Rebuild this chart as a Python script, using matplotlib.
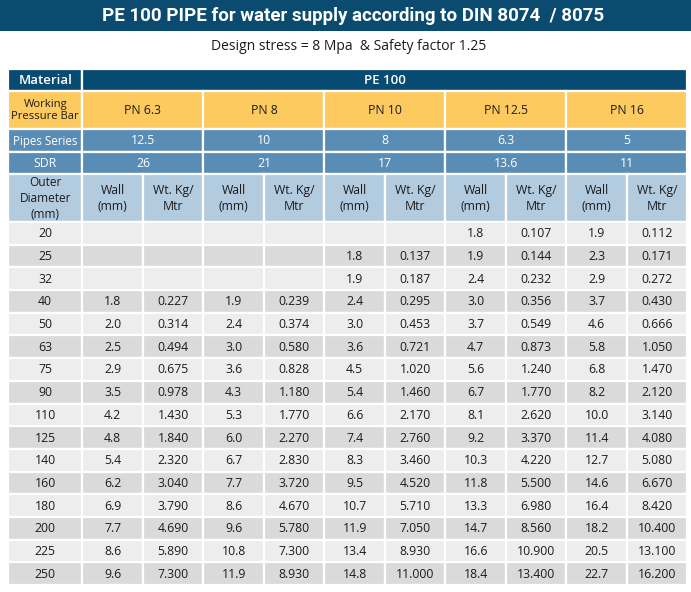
import matplotlib.pyplot as plt
from matplotlib.patches import Rectangle

plt.rcParams["font.family"] = ["Open Sans", "DejaVu Sans"]

# ---------- data ----------
title = "PE 100 PIPE for water supply according to DIN 8074  / 8075"
subtitle = "Design stress = 8 Mpa  & Safety factor 1.25"
material = "PE 100"
pn_labels = ["PN 6.3", "PN 8", "PN 10", "PN 12.5", "PN 16"]
pipe_series = ["12.5", "10", "8", "6.3", "5"]
sdr = ["26", "21", "17", "13.6", "11"]
outer_d = [20, 25, 32, 40, 50, 63, 75, 90, 110, 125, 140, 160, 180, 200, 225, 250]

wall_pn63 = [None, None, None, 1.8, 2.0, 2.5, 2.9, 3.5, 4.2, 4.8, 5.4, 6.2, 6.9, 7.7, 8.6, 9.6]
wt_pn63 = [None, None, None, 0.227, 0.314, 0.494, 0.675, 0.978, 1.430, 1.840, 2.320, 3.040, 3.790, 4.690, 5.890, 7.300]
wall_pn8 = [None, None, None, 1.9, 2.4, 3.0, 3.6, 4.3, 5.3, 6.0, 6.7, 7.7, 8.6, 9.6, 10.8, 11.9]
wt_pn8 = [None, None, None, 0.239, 0.374, 0.580, 0.828, 1.180, 1.770, 2.270, 2.830, 3.720, 4.670, 5.780, 7.300, 8.930]
wall_pn10 = [None, 1.8, 1.9, 2.4, 3.0, 3.6, 4.5, 5.4, 6.6, 7.4, 8.3, 9.5, 10.7, 11.9, 13.4, 14.8]
wt_pn10 = [None, 0.137, 0.187, 0.295, 0.453, 0.721, 1.020, 1.460, 2.170, 2.760, 3.460, 4.520, 5.710, 7.050, 8.930, 11.000]
wall_pn125 = [1.8, 1.9, 2.4, 3.0, 3.7, 4.7, 5.6, 6.7, 8.1, 9.2, 10.3, 11.8, 13.3, 14.7, 16.6, 18.4]
wt_pn125 = [0.107, 0.144, 0.232, 0.356, 0.549, 0.873, 1.240, 1.770, 2.620, 3.370, 4.220, 5.500, 6.980, 8.560, 10.900, 13.400]
wall_pn16 = [1.9, 2.3, 2.9, 3.7, 4.6, 5.8, 6.8, 8.2, 10.0, 11.4, 12.7, 14.6, 16.4, 18.2, 20.5, 22.7]
wt_pn16 = [0.112, 0.171, 0.272, 0.430, 0.666, 1.050, 1.470, 2.120, 3.140, 4.080, 5.080, 6.670, 8.420, 10.400, 13.100, 16.200]

columns = [wall_pn63, wt_pn63, wall_pn8, wt_pn8, wall_pn10, wt_pn10,
           wall_pn125, wt_pn125, wall_pn16, wt_pn16]

# ---------- layout (pixels) ----------
W, H = 691, 592
DARK = "#074b73"
YELLOW = "#fdca5f"
MID = "#5a8db6"
LIGHT = "#b3cbdf"
ROW_A = "#ededed"
ROW_B = "#dadada"
TXT = "#1c1c1c"
FS = 8.8

x_left, x_first, x_right = 8, 82.5, 687.5
sub_w = (x_right - x_first) / 10
sub_edges = [x_first + i * sub_w for i in range(11)]

fig = plt.figure(figsize=(W / 100, H / 100), dpi=100)
ax = fig.add_axes([0, 0, 1, 1])
ax.set_xlim(0, W)
ax.set_ylim(H, 0)
ax.axis("off")


def cell(x0, x1, y0, y1, color, text="", tcolor=TXT, size=FS, weight="normal", ls=1.25):
    ax.add_patch(Rectangle((x0, y0), x1 - x0, y1 - y0, facecolor=color,
                           edgecolor="white", linewidth=1.6))
    if text:
        ax.text((x0 + x1) / 2, (y0 + y1) / 2 + 0.5, text,
                ha="center", va="center", color=tcolor, fontsize=size,
                fontweight=weight, linespacing=ls)


# title bar
ax.add_patch(Rectangle((0, 0), W, 31, facecolor="#0b4b70", edgecolor="none"))
ax.text(W / 2 + 8, 16, title, ha="center", va="center", color="white",
        fontsize=13.5, fontweight="bold", family=["Roboto", "DejaVu Sans"])
ax.text(349, 47, subtitle, ha="center", va="center", color=TXT, fontsize=10)

# header rows
y_mat, y_wp, y_ps, y_sdr, y_od, y_data = 69, 91, 129, 152, 174, 222
cell(x_left, x_first, y_mat, y_wp, DARK, "Material", "white", 9.5, "semibold")
cell(x_first, x_right, y_mat, y_wp, DARK, material, "white", 9.5, "semibold")

cell(x_left, x_first, y_wp, y_ps, YELLOW, "Working\nPressure Bar", TXT, 8.1, ls=1.2)
cell(x_left, x_first, y_ps, y_sdr, MID, "Pipes Series", "white", 8.3)
cell(x_left, x_first, y_sdr, y_od, MID, "SDR", "white", FS)
cell(x_left, x_first, y_od, y_data, LIGHT, "Outer\nDiameter\n(mm)", TXT, 8.6, ls=1.25)

for i in range(5):
    g0, g1 = sub_edges[2 * i], sub_edges[2 * i + 2]
    cell(g0, g1, y_wp, y_ps, YELLOW, pn_labels[i])
    cell(g0, g1, y_ps, y_sdr, MID, pipe_series[i], "white")
    cell(g0, g1, y_sdr, y_od, MID, sdr[i], "white")
    cell(sub_edges[2 * i], sub_edges[2 * i + 1], y_od, y_data, LIGHT, "Wall\n(mm)")
    cell(sub_edges[2 * i + 1], g1, y_od, y_data, LIGHT, "Wt. Kg/\nMtr")

# data rows
row_h = (585 - y_data) / len(outer_d)
for r, d in enumerate(outer_d):
    y0 = y_data + r * row_h
    y1 = y0 + row_h
    bg = ROW_A if r % 2 == 0 else ROW_B
    cell(x_left, x_first, y0, y1, bg, str(d))
    for c, col in enumerate(columns):
        v = col[r]
        if v is None:
            txt = ""
        elif c % 2 == 0:
            txt = f"{v:.1f}"
        else:
            txt = f"{v:.3f}"
        cell(sub_edges[c], sub_edges[c + 1], y0, y1, bg, txt)

fig.savefig("out.png", dpi=100)
